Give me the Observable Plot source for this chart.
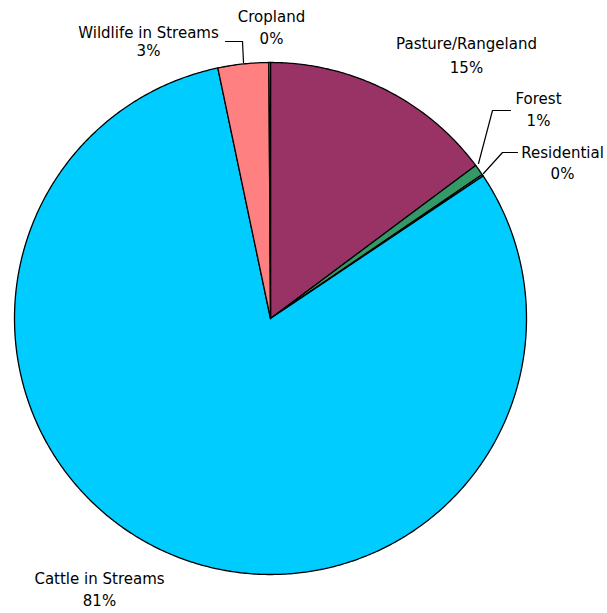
<!DOCTYPE html>
<html>
<head>
<meta charset="utf-8">
<script src="https://cdn.jsdelivr.net/npm/d3@7"></script>
<script src="https://cdn.jsdelivr.net/npm/@observablehq/plot@0.6"></script>
<style>
  html, body { margin: 0; padding: 0; background: #ffffff; }
  #chart svg { display: block; }
</style>
</head>
<body>
<div id="chart"></div>
<script>
// ---- data (clockwise from 12 o'clock) ----
const categories = ["Pasture/Rangeland", "Forest", "Residential", "Cattle in Streams", "Wildlife in Streams", "Cropland"];
const shares     = [14.8, 0.7, 0.1, 81.1, 3.2, 0.1];
const pctLabels  = ["15%", "1%", "0%", "81%", "3%", "0%"];
const colors     = ["#993366", "#339966", "#ccffff", "#00ccff", "#ff8080", "#ffffcc"];

// ---- layout (pixel positions of the hand-placed labels and leaders) ----
const CX = 270, CY = 318, R = 256;
const labelPx = [
  [465, 48, 24],   // Pasture/Rangeland
  [537, 103, 22],  // Forest
  [561, 157, 21],  // Residential
  [98, 583, 22],   // Cattle in Streams
  [147, 37, 18],   // Wildlife in Streams
  [270, 21, 22]    // Cropland
];
const leaderPx = {
  "Wildlife in Streams": [[225, 41], [242, 41], [243, 62]],
  "Forest": [[510, 110], [492, 110], [478, 163]],
  "Residential": [[517, 152], [502, 152], [483, 173]]
};
const toX = px => (px - CX) / R;
const toY = py => (CY - py) / R;

// ---- build slice polygons from the data ----
const total = d3.sum(shares);
const slicePts = [];
let acc = 0;
categories.forEach((name, i) => {
  const a0 = acc / total * 2 * Math.PI;
  acc += shares[i];
  const a1 = acc / total * 2 * Math.PI;
  slicePts.push({name, color: colors[i], x: 0, y: 0});
  const n = Math.max(2, Math.ceil((a1 - a0) / (Math.PI / 360)));
  for (let k = 0; k <= n; k++) {
    const a = a0 + (a1 - a0) * k / n;
    slicePts.push({name, color: colors[i], x: Math.sin(a), y: Math.cos(a)});
  }
});

const nameRows = categories.map((c, i) => ({text: c, x: toX(labelPx[i][0] + 1), y: toY(labelPx[i][1])}));
const pctRows = categories.map((c, i) => ({text: pctLabels[i], x: toX(labelPx[i][0] + 1), y: toY(labelPx[i][1] + labelPx[i][2])}));
const leaderRows = [];
Object.entries(leaderPx).forEach(([name, pts]) => pts.forEach(p => leaderRows.push({name, x: toX(p[0]), y: toY(p[1])})));

const chart = Plot.plot({
  width: 607,
  height: 613,
  margin: 0,
  style: {background: "#ffffff", fontFamily: "'DejaVu Sans', sans-serif"},
  x: {domain: [-1, 1], range: [CX - R, CX + R], axis: null},
  y: {domain: [-1, 1], range: [CY + R, CY - R], axis: null},
  color: {type: "identity"},
  marks: [
    Plot.line(slicePts, {x: "x", y: "y", z: "name", fill: "color", stroke: "#000000", strokeWidth: 1.3, curve: "linear-closed"}),
    Plot.line(leaderRows, {x: "x", y: "y", z: "name", stroke: "#000000", strokeWidth: 1.2}),
    Plot.text(nameRows, {x: "x", y: "y", text: "text", lineAnchor: "bottom", textAnchor: "middle", fontSize: 15, fill: "#000000", style: "letter-spacing:1.6px"}),
    Plot.text(pctRows, {x: "x", y: "y", text: "text", lineAnchor: "bottom", textAnchor: "middle", fontSize: 15, fill: "#000000", style: "letter-spacing:1.6px"})
  ]
});
document.getElementById("chart").appendChild(chart);
</script>
</body>
</html>
